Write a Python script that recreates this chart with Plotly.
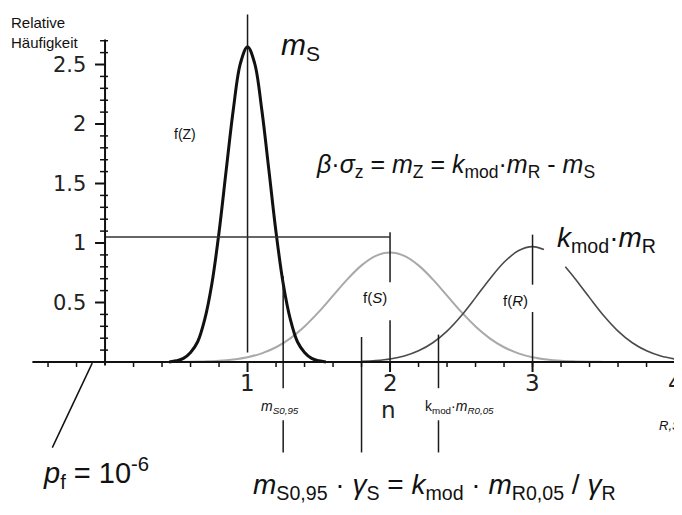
import plotly.graph_objects as go

# ---------------- data ----------------
# f(Z) - black narrow curve around m_S = 1
Z_x = [0.45, 0.50, 0.55, 0.60, 0.65, 0.70, 0.75, 0.80, 0.85, 0.90, 0.95, 1.00,
       1.05, 1.10, 1.15, 1.20, 1.25, 1.30, 1.35, 1.40, 1.45, 1.50, 1.55]
Z_y = [0.00, 0.01, 0.03, 0.08, 0.17, 0.36, 0.66, 1.09, 1.61, 2.12, 2.51, 2.65,
       2.51, 2.12, 1.61, 1.09, 0.66, 0.36, 0.17, 0.08, 0.03, 0.01, 0.00]

# f(S) - light grey curve around 2
S_x = [0.5, 0.6, 0.7, 0.8, 0.9, 1.0, 1.1, 1.2, 1.3, 1.4, 1.5, 1.6, 1.7, 1.8, 1.9, 2.0,
       2.1, 2.2, 2.3, 2.4, 2.5, 2.6, 2.7, 2.8, 2.9, 3.0, 3.1, 3.2, 3.3, 3.4, 3.5, 3.6, 3.7]
S_y = [0.001, 0.002, 0.005, 0.010, 0.021, 0.040, 0.073, 0.124, 0.199, 0.299, 0.421,
       0.558, 0.694, 0.812, 0.892, 0.920,
       0.892, 0.812, 0.694, 0.558, 0.421, 0.299, 0.199, 0.124, 0.073, 0.040, 0.021,
       0.010, 0.005, 0.002, 0.001, 0.0, 0.0]

# f(R) - dark grey curve around 3 (interrupted under the label)
R_x = [1.8, 1.9, 2.0, 2.1, 2.2, 2.3, 2.4, 2.5, 2.6, 2.7, 2.8, 2.9, 3.0, 3.08, None,
       3.23, 3.3, 3.4, 3.5, 3.6, 3.7, 3.8, 3.9, 4.0]
R_y = [0.005, 0.012, 0.025, 0.050, 0.094, 0.162, 0.260, 0.389, 0.541, 0.698, 0.838,
       0.935, 0.970, 0.945, None,
       0.800, 0.698, 0.541, 0.389, 0.260, 0.162, 0.094, 0.050, 0.025]

# guide lines (x, y_from, y_to)
guide_x  = [1.00, 1.25, 1.25, 1.80, 2.00, 2.00, 2.34, 2.34, 3.00, 3.00]
guide_y0 = [0.08, 0.72, -0.49, 0.21, 1.09, 0.35, 0.23, -0.49, 1.07, 0.42]
guide_y1 = [2.92, -0.22, -0.76, -0.76, 0.67, -0.04, -0.22, -0.76, 0.65, -0.04]

level_y = 1.05          # horizontal reference line
level_x = [0.0, 2.0]

# axes
x_axis_span = [-0.51, 4.03]
y_axis_span = [-0.03, 2.71]
x_major = [1, 2, 3, 4]
x_minor = [-0.4, -0.2, 0.2, 0.4, 0.6, 0.8, 1.2, 1.4, 1.6, 1.8, 2.2, 2.4, 2.6, 2.8,
           3.2, 3.4, 3.6, 3.8]
y_major = [0.5, 1.0, 1.5, 2.0, 2.5]
y_major_labels = ["0.5", "1", "1.5", "2", "2.5"]
y_minor = [0.1, 0.2, 0.3, 0.4, 0.6, 0.7, 0.8, 0.9, 1.1, 1.2, 1.3, 1.4, 1.6, 1.7, 1.8,
           1.9, 2.1, 2.2, 2.3, 2.4, 2.6, 2.7]

XR = [-0.681, 4.105]
YR = [-1.353, 2.975]

TXT = "Arial, Liberation Sans, sans-serif"
TICKF = "DejaVu Sans, sans-serif"

fig = go.Figure()

fig.add_trace(go.Scatter(x=S_x, y=S_y, mode="lines", line=dict(color="#a9a9a9", width=2, shape="spline"),
                         hoverinfo="skip"))
fig.add_trace(go.Scatter(x=R_x, y=R_y, mode="lines", connectgaps=False,
                         line=dict(color="#4a4a4a", width=1.6, shape="spline"), hoverinfo="skip"))
fig.add_trace(go.Scatter(x=Z_x, y=Z_y, mode="lines", line=dict(color="#111111", width=3, shape="spline"),
                         hoverinfo="skip"))

# guide lines
gx, gy = [], []
for x, a, b in zip(guide_x, guide_y0, guide_y1):
    gx += [x, x, None]
    gy += [a, b, None]
fig.add_trace(go.Scatter(x=gx, y=gy, mode="lines", line=dict(color="#1a1a1a", width=1.5), hoverinfo="skip"))
fig.add_trace(go.Scatter(x=level_x, y=[level_y, level_y], mode="lines",
                         line=dict(color="#333333", width=1.5), hoverinfo="skip"))

# axes lines
fig.add_trace(go.Scatter(x=x_axis_span, y=[0, 0], mode="lines", line=dict(color="#111", width=2), hoverinfo="skip"))
fig.add_trace(go.Scatter(x=[0, 0], y=y_axis_span, mode="lines", line=dict(color="#111", width=2), hoverinfo="skip"))

shapes = []
for v in x_major:
    shapes.append(dict(type="line", xref="x", yref="y", ysizemode="pixel", yanchor=0,
                       x0=v, x1=v, y0=-10, y1=0, line=dict(color="#111", width=2)))
for v in x_minor:
    shapes.append(dict(type="line", xref="x", yref="y", ysizemode="pixel", yanchor=0,
                       x0=v, x1=v, y0=-5, y1=0, line=dict(color="#111", width=1.5)))
for v in y_major:
    shapes.append(dict(type="line", xref="x", yref="y", xsizemode="pixel", xanchor=0,
                       x0=-10, x1=0, y0=v, y1=v, line=dict(color="#111", width=2)))
for v in y_minor:
    shapes.append(dict(type="line", xref="x", yref="y", xsizemode="pixel", xanchor=0,
                       x0=-5, x1=3, y0=v, y1=v, line=dict(color="#111", width=1.5)))
# pointer to p_f
shapes.append(dict(type="line", xref="x", yref="y", x0=-0.09, y0=-0.01, x1=-0.37, y1=-0.72,
                   line=dict(color="#111", width=1.5)))
fig.update_layout(shapes=shapes)

ann = []
def A(x, y, text, size, xanchor="center", yanchor="middle", font=TXT, color="#111", align="center"):
    ann.append(dict(x=x, y=y, xref="x", yref="y", text=text, showarrow=False, align=align,
                    xanchor=xanchor, yanchor=yanchor, font=dict(family=font, size=size, color=color)))

for v in x_major:
    A(v, -0.18, str(v), 23, font=TICKF, color="#222")
for v, lab in zip(y_major, y_major_labels):
    A(-0.12, v, lab, 21, xanchor="right", font=TICKF, color="#222")

A(-0.672, 2.77, "Relative<br>Häufigkeit", 15, xanchor="left", align="left")
A(1.37, 2.65, "<i>m</i><sub>S</sub>", 30)
A(0.56, 1.92, "f(Z)", 14)
A(2.46, 1.65, "<i>β</i>·<i>σ</i><sub>z</sub> = <i>m</i><sub>Z</sub> = <i>k</i><sub>mod</sub>·<i>m</i><sub>R</sub> - <i>m</i><sub>S</sub>", 25)
A(3.52, 1.03, "<i>k</i><sub>mod</sub>·<i>m</i><sub>R</sub>", 28)
A(1.895, 0.54, "f(<i>S</i>)", 15)
A(2.88, 0.52, "f(<i>R</i>)", 15)
A(1.23, -0.38, "<i>m</i><sub><i>S0,95</i></sub>", 14)
A(1.99, -0.40, "n", 23, font=TICKF, color="#222")
A(2.49, -0.38, "k<sub>mod</sub>·<i>m</i><sub><i>R0,05</i></sub>", 14)
A(3.87, -0.53, "<i>R,S</i>", 13, xanchor="left")
A(-0.06, -0.93, "<i>p</i><sub>f</sub> = 10<sup>-6</sup>", 29)
A(2.31, -1.05, "<i>m</i><sub>S0,95</sub> · <i>γ</i><sub>S</sub> = <i>k</i><sub>mod</sub> · <i>m</i><sub>R0,05</sub> / <i>γ</i><sub>R</sub>", 28)

fig.update_layout(
    annotations=ann,
    width=682, height=515,
    margin=dict(l=0, r=0, t=0, b=0),
    paper_bgcolor="white", plot_bgcolor="white",
    showlegend=False,
    xaxis=dict(range=XR, visible=False, fixedrange=True),
    yaxis=dict(range=YR, visible=False, fixedrange=True),
)

fig.write_html("out.html")
